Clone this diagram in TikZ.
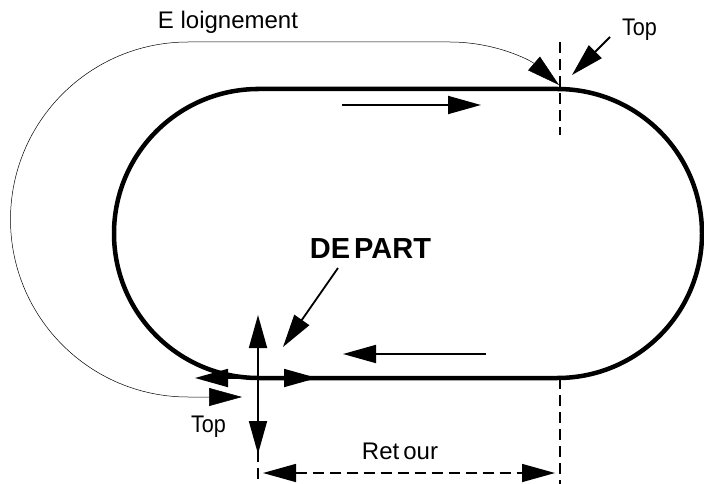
\documentclass[tikz,border=0pt]{standalone}
\usepackage{fontspec}
\setmainfont{Liberation Sans}
\newfontfamily\etroite[FakeStretch=0.9]{Liberation Sans}
\usetikzlibrary{arrows.meta}

\tikzset{
  piste/.style={line width=4.5pt},
  pointe/.style={-{Triangle[length=33pt,width=18pt]}},
  pointes/.style={{Triangle[length=33pt,width=18pt]}-{Triangle[length=33pt,width=18pt]}},
  fleche/.style={line width=1.8pt,pointe},
  tirets/.style={line width=1.5pt,dash pattern=on 11pt off 6pt},
  etiq/.style={inner sep=0pt,anchor=base,font=\fontsize{24}{24}\selectfont},
  top/.style={etiq,font=\fontsize{24}{24}\selectfont\etroite},
}

\begin{document}
\begin{tikzpicture}[x=1pt,y=-1pt]
		\useasboundingbox (0,0) rectangle (704,484);
		%
		% la piste
		\draw[piste]
		(400,89) {[rounded corners=144.5pt] --
			(702,89) --
			(702,378) --
			(114,378) --
			(114,89) --
			cycle};
		%
		\node[etiq] (eloign) at (228,29) {E loignement};
		\node[top] (topH) at (639.5,36) {Top};
		\node[etiq,font=\fontsize{29}{29}\selectfont\bfseries] (depart) at (370.5,258) {DE\kern4pt PART};
		\node[top] (topB) at (208.5,432) {Top};
		\node[etiq] (retour) at (400,459) {Ret\,our};
		%
		\coordinate (aller1) at (342,105);
		\coordinate (aller2) at (481,105);
		\coordinate (retour1) at (486,354);
		\coordinate (retour2) at (343,354);
		\coordinate (topHq) at (610,37);
		\coordinate (topHp) at (572,75);
		\coordinate (depq) at (338,268);
		\coordinate (depp) at (283,347);
		\coordinate (dep) at (258,378);
		\coordinate (depg) at (195,378);
		\coordinate (depd) at (317,378);
		\coordinate (haut) at (258,315);
		\coordinate (bas) at (258,454);
		\coordinate (cote1) at (263,473);
		\coordinate (cote2) at (555,473);
		\coordinate (eloign1) at (242,397);
		\coordinate (eloign2) at (559,85);
		%
		\draw[fleche] (aller1) -- (aller2);
		\draw[fleche] (retour1) -- (retour2);
		\draw[fleche] (topHq) -- (topHp);
		\draw[fleche] (depq) -- (depp);
		\draw[fleche] (dep) -- (depg);
		\draw[fleche] (dep) -- (depd);
		\draw[line width=1.8pt,pointes] (haut) -- (bas);
		%
		% trajet d'eloignement
		\draw[line width=0.5pt,pointes]
		(eloign1) -- (188,397)
			arc[start angle=90,end angle=270,radius=177.5] --
			(450,42) .. controls (495,42) and (530,60) .. (eloign2);
		%
		% reperes
		\draw[tirets] (560,42) -- (560,135);
		\draw[tirets] (560,378) -- (560,484);
		\draw[tirets] (258,400) -- (258,484);
		\draw[tirets,pointes] (cote1) -- (cote2);
\end{tikzpicture}
\end{document}
